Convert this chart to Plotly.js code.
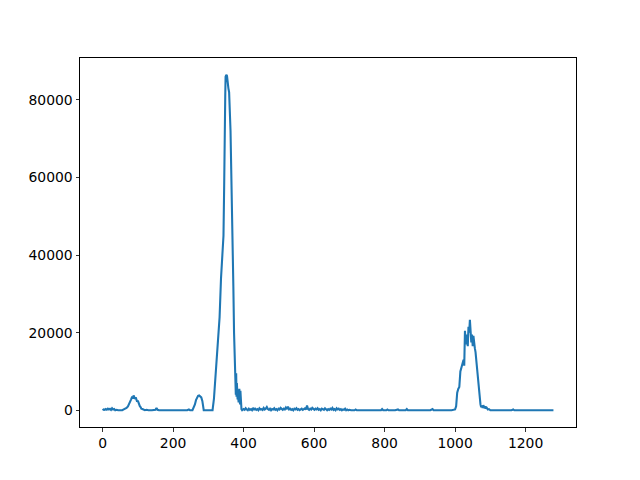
<!DOCTYPE html>
<html>
<head>
<meta charset="utf-8">
<script src="https://cdn.plot.ly/plotly-3.0.1.min.js"></script>
<style>html,body{margin:0;padding:0;background:#fff}#chart{width:640px;height:480px}</style>
</head>
<body>
<div id="chart"></div>
<script>
const xs = [0,3,6,9,12,15,18,21,24,27,30,33,36,40,44,48,52,56,60,
64,68,72,75,78,81,84,86,88,90,92,94,96,98,100,102,104,106,108,110,113,116,120,125,130,140,150,153,156,160,
200,240,245,248,255,258,262,265,268,271,274,277,280,283,285,287,310,
312,316,320,324,328,332,336,340,343,345,346,348,349,351,353,355,357,359,361,363,365,367,369,371,373,375,376,377,378,379,380,381,382,383,384,386,388,389,390,391,392,394,396,
400,403,406,409,412,415,418,421,424,427,430,433,436,439,442,445,448,451,454,457,460,463,466,469,472,475,478,481,484,487,490,493,496,499,502,505,508,511,514,517,520,523,526,529,532,535,538,541,544,547,550,553,556,559,562,565,568,571,574,577,580,583,586,589,592,595,598,601,604,607,610,613,616,619,622,625,628,631,634,637,640,643,646,649,652,655,658,661,664,667,670,673,676,679,682,685,688,691,694,697,700,705,715,718,721,740,760,763,790,793,796,805,808,811,830,838,841,860,863,866,900,930,936,939,990,
1000,1003,1006,1009,1012,1015,1018,1021,1024,1026,1028,1030,1032,1034,1036,1038,1040,1042,1044,1046,1048,1050,1052,1054,1056,1058,1060,1062,1064,1066,1068,1070,1072,1074,1076,1078,1080,1082,1084,1086,1088,1090,1093,1096,1100,1160,1165,1168,1279];
const ys = [0,200,100,300,150,400,200,350,100,500,200,300,0,100,0,0,100,0,200,
300,600,1000,1500,2200,2800,3500,3000,3800,3200,2900,3300,2600,2200,2500,1800,1400,1000,800,400,300,100,0,100,0,0,100,600,100,0,
0,0,200,0,0,500,1500,2600,3300,3700,3800,3500,3300,2400,600,0,0,
0,3000,8000,14000,18000,24000,34000,40000,45000,58000,80500,81000,86000,86500,86200,84000,83000,82000,78000,72000,62000,54000,46000,32000,20000,10000,6000,8500,4000,9500,3500,7000,5000,2800,4000,2000,5500,3000,1500,5000,800,300,0,
300,100,500,200,0,400,100,300,0,600,200,400,100,300,0,500,200,300,100,600,200,400,800,300,100,400,0,300,200,500,100,300,0,400,200,600,300,100,400,200,700,300,900,200,400,100,300,0,400,200,500,100,300,0,200,400,100,300,500,200,1200,300,100,400,200,600,300,100,400,200,500,100,300,0,400,200,100,500,200,0,300,100,400,200,600,100,300,0,500,200,400,100,300,0,200,100,400,0,200,0,100,0,0,200,0,0,100,0,0,300,0,0,200,0,0,200,0,0,300,0,0,0,300,0,0,
200,1000,4500,5500,6000,10000,11000,12000,13000,11500,20500,17000,19500,18000,16500,21500,20000,23300,20000,17500,19500,16500,19200,17000,16000,15000,13000,10000,8000,6000,4000,2500,1500,800,1200,600,1300,900,500,1000,400,600,200,300,0,0,200,0,0];
const xTicks = [0,200,400,600,800,1000,1200];
const yTicks = [0,20000,40000,60000,80000];

const axisCommon = {
  showgrid:false, zeroline:false, showline:true, linecolor:'#000', linewidth:1, mirror:true,
  ticks:'outside', ticklen:3.5, tickwidth:0.8, tickcolor:'#000',
  tickfont:{family:'DejaVu Sans', size:13.9, color:'#000'}, tickmode:'array'
};
Plotly.newPlot('chart', [{
  x: xs, y: ys, type:'scatter', mode:'lines',
  line:{color:'#1f77b4', width:2.08}, hoverinfo:'skip'
}], {
  width:640, height:480,
  margin:{l:80, r:64, t:57.6, b:52.8, pad:0},
  paper_bgcolor:'#fff', plot_bgcolor:'#fff', showlegend:false,
  xaxis: Object.assign({}, axisCommon, {range:[-64,1343], tickvals:xTicks, ticktext:xTicks.map(String)}),
  yaxis: Object.assign({}, axisCommon, {range:[-4325,90825], tickvals:yTicks, ticktext:yTicks.map(String)})
}, {staticPlot:true, displayModeBar:false});
</script>
</body>
</html>
